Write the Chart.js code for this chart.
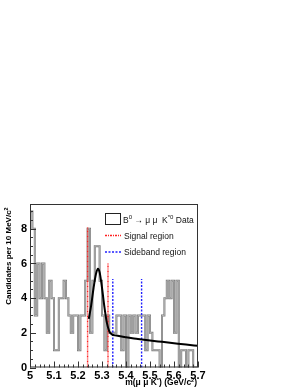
<!DOCTYPE html>
<html>
<head>
<meta charset="utf-8">
<script src="https://cdn.jsdelivr.net/npm/chart.js@4/dist/chart.umd.min.js"></script>
<style>
html,body{margin:0;padding:0;background:#fff;}
#wrap{width:300px;height:388px;position:relative;}
</style>
</head>
<body>
<div id="wrap"><canvas id="c" width="300" height="388"></canvas></div>
<script>
// ---- data ----
const binStart = 5.0;
const binWidth = 0.01;
const counts = [
  9,8,3,6,4,6,4,2,5,4,
  1,1,4,4,5,4,3,2,3,3,
  1,3,3,5,8,2,5,7,7,5,
  3,1,3,2,2,2,3,3,1,3,
  0,3,2,3,2,3,3,3,1,3,
  2,1,1,1,0,3,4,5,4,5,
  2,5,0,1,1,0,1,1,0,0
];
const fitX = [5.245,5.255,5.265,5.275,5.283,5.29,5.30,5.31,5.32,5.33,5.34,5.36,5.40,5.45,5.50,5.55,5.60,5.65,5.70];
const fitY = [2.8,3.6,4.6,5.4,5.7,5.5,4.6,3.5,2.6,2.1,1.92,1.84,1.74,1.65,1.56,1.48,1.40,1.32,1.25];
const signalLines = [5.24, 5.325];
const signalTops = [8.1, 6.0];
const sidebandLines = [5.345, 5.465];
const sidebandTops = [5.1, 5.1];
const xTicks = [5.0,5.1,5.2,5.3,5.4,5.5,5.6,5.7];
const xTickLabels = ['5','5.1','5.2','5.3','5.4','5.5','5.6','5.7'];
const yTicks = [0,2,4,6,8];
const yTickLabels = ['0','2','4','6','8'];
const xRange = [5.0, 5.7];
const yRange = [0, 9.43];

// ---- build histogram outline ----
const histPts = [{x: binStart, y: 0}];
counts.forEach((c, i) => histPts.push({x: binStart + i * binWidth, y: c}));
histPts.push({x: binStart + counts.length * binWidth, y: counts[counts.length - 1]});
histPts.push({x: binStart + counts.length * binWidth, y: 0});

const fitPts = fitX.map((x, i) => ({x, y: fitY[i]}));
function vline(x, top){ return [{x, y: 0}, {x, y: top}]; }

const FONT = '"Liberation Sans", Arial, Helvetica, sans-serif';

const datasets = [
  {data: histPts, borderColor: '#7a7a7a', borderWidth: 2, stepped: 'before', pointRadius: 0, fill: false, order: 5},
  {data: histPts, borderColor: '#d4d4d4', borderWidth: 0.6, stepped: 'before', pointRadius: 0, fill: false, order: 4},
];
signalLines.forEach((x, i) => datasets.push({data: vline(x, signalTops[i]), borderColor: '#ff2020', borderWidth: 1.4, borderDash: [2,1,1,1], pointRadius: 0, order: 3}));
sidebandLines.forEach((x, i) => datasets.push({data: vline(x, sidebandTops[i]), borderColor: '#2020ff', borderWidth: 1.4, borderDash: [2,1.5], pointRadius: 0, order: 3}));
datasets.push({data: fitPts, borderColor: '#000', borderWidth: 2, pointRadius: 0, cubicInterpolationMode: 'monotone', order: 1});

const framePlugin = {
  id: 'frame',
  afterDatasetsDraw(chart) {
    const {ctx, chartArea: a, scales: {x, y}} = chart;
    ctx.save();
    ctx.strokeStyle = '#333';
    ctx.lineWidth = 1;
    ctx.strokeRect(a.left + 0.5, a.top + 0.5, a.right - a.left - 1, a.bottom - a.top - 1);
    // inward ticks
    ctx.beginPath();
    for (let v = 0; v <= yRange[1] + 1e-9; v += 0.5) {
      const py = Math.round(y.getPixelForValue(v)) + 0.5;
      const major = Math.abs(v / 2 - Math.round(v / 2)) < 1e-6;
      ctx.moveTo(a.left, py); ctx.lineTo(a.left + (major ? 6 : 3), py);
    }
    for (let k = 0; k <= 35; k++) {
      const v = xRange[0] + k * 0.02;
      const px = Math.round(x.getPixelForValue(v)) + 0.5;
      const major = k % 5 === 0;
      ctx.moveTo(px, a.bottom); ctx.lineTo(px, a.bottom - (major ? 6 : 3));
    }
    ctx.stroke();

    // legend
    ctx.fillStyle = '#fff';
    ctx.strokeStyle = '#222';
    ctx.lineWidth = 1;
    ctx.fillRect(105.5, 213.5, 15, 11);
    ctx.strokeRect(105.5, 213.5, 15, 11);
    ctx.lineWidth = 1.4;
    ctx.strokeStyle = '#ff2020';
    ctx.setLineDash([2,1,1,1]);
    ctx.beginPath(); ctx.moveTo(105, 235.5); ctx.lineTo(121, 235.5); ctx.stroke();
    ctx.strokeStyle = '#2020ff';
    ctx.setLineDash([2,1.5]);
    ctx.beginPath(); ctx.moveTo(105, 252); ctx.lineTo(121, 252); ctx.stroke();
    ctx.setLineDash([]);

    ctx.fillStyle = '#111';
    ctx.textBaseline = 'alphabetic';
    ctx.textAlign = 'left';
    const base = '8.5px ' + FONT, sup = '6px ' + FONT;
    let tx = 123; const ty = 223;
    function put(t, f, dy){ ctx.font = f; ctx.fillText(t, tx, ty + (dy||0)); tx += ctx.measureText(t).width; }
    put('B', base); put('0', sup, -4); put(' \u2192 \u03bc \u03bc  K', base); put('*0', sup, -4); put(' Data', base);
    ctx.font = base;
    ctx.fillText('Signal region', 124, 238.5);
    ctx.fillText('Sideband region', 124, 255);

    // axis titles
    ctx.fillStyle = '#000';
    const bf = 'bold 8.5px ' + FONT, sf = 'bold 5.5px ' + FONT;
    const xt1 = 'm(\u03bc \u03bc K', xs1 = '*', xt2 = ') (GeV/c', xs2 = '2', xt3 = ')';
    ctx.font = bf; const w1 = ctx.measureText(xt1).width, w2 = ctx.measureText(xt2).width, w3 = ctx.measureText(xt3).width;
    ctx.font = sf; const ws1 = ctx.measureText(xs1).width, ws2 = ctx.measureText(xs2).width;
    let xx = 197 - (w1 + ws1 + w2 + ws2 + w3);
    const xy = 385;
    ctx.font = bf; ctx.fillText(xt1, xx, xy); xx += w1;
    ctx.font = sf; ctx.fillText(xs1, xx, xy - 3); xx += ws1;
    ctx.font = bf; ctx.fillText(xt2, xx, xy); xx += w2;
    ctx.font = sf; ctx.fillText(xs2, xx, xy - 3); xx += ws2;
    ctx.font = bf; ctx.fillText(xt3, xx, xy);

    // y title rotated
    ctx.save();
    ctx.translate(10.5, 256);
    ctx.rotate(-Math.PI / 2);
    const ybf = 'bold 8px ' + FONT;
    const yt = 'Candidates per 10 MeV/c', ys = '2';
    ctx.font = ybf; const wy = ctx.measureText(yt).width;
    ctx.font = sf; const wys = ctx.measureText(ys).width;
    let yx = -(wy + wys) / 2;
    ctx.font = ybf; ctx.fillText(yt, yx, 0); yx += wy;
    ctx.font = sf; ctx.fillText(ys, yx, -3);
    ctx.restore();
    ctx.restore();
  }
};

new Chart(document.getElementById('c'), {
  type: 'line',
  data: {datasets},
  options: {
    responsive: false,
    animation: false,
    devicePixelRatio: 1,
    layout: {padding: {left: 0, right: 102, top: 204, bottom: 0}},
    plugins: {legend: {display: false}, tooltip: {enabled: false}},
    scales: {
      x: {
        type: 'linear', min: xRange[0], max: xRange[1],
        afterBuildTicks: s => { s.ticks = xTicks.map(v => ({value: v})); },
        afterFit: s => { s.height = 20.5; },
        grid: {display: false, drawTicks: false},
        border: {display: false},
        ticks: {
          padding: 2, color: '#000', maxRotation: 0, autoSkip: false,
          font: {family: FONT, size: 11, weight: 'bold'},
          callback: (v) => { const i = xTicks.findIndex(t => Math.abs(t - v) < 1e-6); return i >= 0 ? xTickLabels[i] : ''; }
        }
      },
      y: {
        type: 'linear', min: yRange[0], max: yRange[1],
        afterBuildTicks: s => { s.ticks = yTicks.map(v => ({value: v})); },
        afterFit: s => { s.width = 30; },
        grid: {display: false, drawTicks: false},
        border: {display: false},
        ticks: {
          padding: 3, color: '#000', autoSkip: false,
          font: {family: FONT, size: 11, weight: 'bold'},
          callback: (v) => { const i = yTicks.findIndex(t => Math.abs(t - v) < 1e-6); return i >= 0 ? yTickLabels[i] : ''; }
        }
      }
    }
  },
  plugins: [framePlugin]
});
</script>
</body>
</html>
